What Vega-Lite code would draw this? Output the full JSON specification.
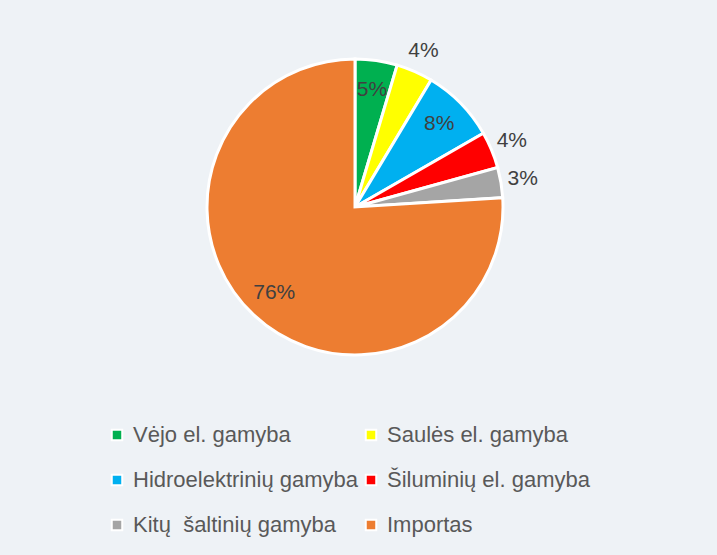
{
  "$schema": "https://vega.github.io/schema/vega-lite/v6.json",
  "width": 710,
  "height": 414,
  "padding": {"left": 0, "top": 0, "right": 7, "bottom": 19},
  "background": "#eef2f6",
  "config": {"view": {"stroke": null}, "font": "Liberation Sans"},
  "data": {
    "values": [
      {"rank": 1, "source": "Vėjo el. gamyba", "share": 0.046},
      {"rank": 2, "source": "Saulės el. gamyba", "share": 0.04},
      {"rank": 3, "source": "Hidroelektrinių gamyba", "share": 0.081},
      {"rank": 4, "source": "Šiluminių el. gamyba", "share": 0.04},
      {"rank": 5, "source": "Kitų \u00a0šaltinių gamyba", "share": 0.033},
      {"rank": 6, "source": "Importas", "share": 0.76}
    ]
  },
  "layer": [
    {
      "mark": {"type": "arc", "outerRadius": 148, "stroke": "white", "strokeWidth": 3},
      "encoding": {
        "theta": {"field": "share", "type": "quantitative", "stack": true},
        "order": {"field": "rank", "type": "quantitative"},
        "color": {
          "field": "source",
          "type": "nominal",
          "scale": {
            "domain": ["Vėjo el. gamyba", "Saulės el. gamyba", "Hidroelektrinių gamyba", "Šiluminių el. gamyba", "Kitų \u00a0šaltinių gamyba", "Importas"],
            "range": ["#00b050", "#ffff00", "#00b0f0", "#ff0000", "#a5a5a5", "#ed7d31"]
          },
          "legend": {
            "title": null,
            "orient": "none",
            "direction": "horizontal",
            "legendX": 106,
            "legendY": 424,
            "columns": 2,
            "columnPadding": 2,
            "rowPadding": 23,
            "padding": 0,
            "symbolType": "square",
            "symbolSize": 110,
            "symbolStrokeColor": "white",
            "symbolStrokeWidth": 2,
            "symbolOpacity": 1,
            "labelFont": "Liberation Sans",
            "labelFontSize": 22,
            "labelColor": "#595959",
            "labelOffset": 5,
            "labelLimit": 400
          }
        }
      }
    },
    {
      "mark": {"type": "text", "radius": 118, "fontSize": 21, "color": "#404040", "font": "Liberation Sans"},
      "encoding": {
        "theta": {"field": "share", "type": "quantitative", "stack": true},
        "order": {"field": "rank", "type": "quantitative"},
        "text": {"condition": {"test": "datum.share < 0.045", "value": ""}, "field": "share", "type": "quantitative", "format": ".0%"}
      }
    },
    {
      "mark": {"type": "text", "radius": 170, "fontSize": 21, "color": "#404040", "font": "Liberation Sans"},
      "encoding": {
        "theta": {"field": "share", "type": "quantitative", "stack": true},
        "order": {"field": "rank", "type": "quantitative"},
        "text": {"condition": {"test": "datum.share >= 0.045", "value": ""}, "field": "share", "type": "quantitative", "format": ".0%"}
      }
    }
  ]
}
